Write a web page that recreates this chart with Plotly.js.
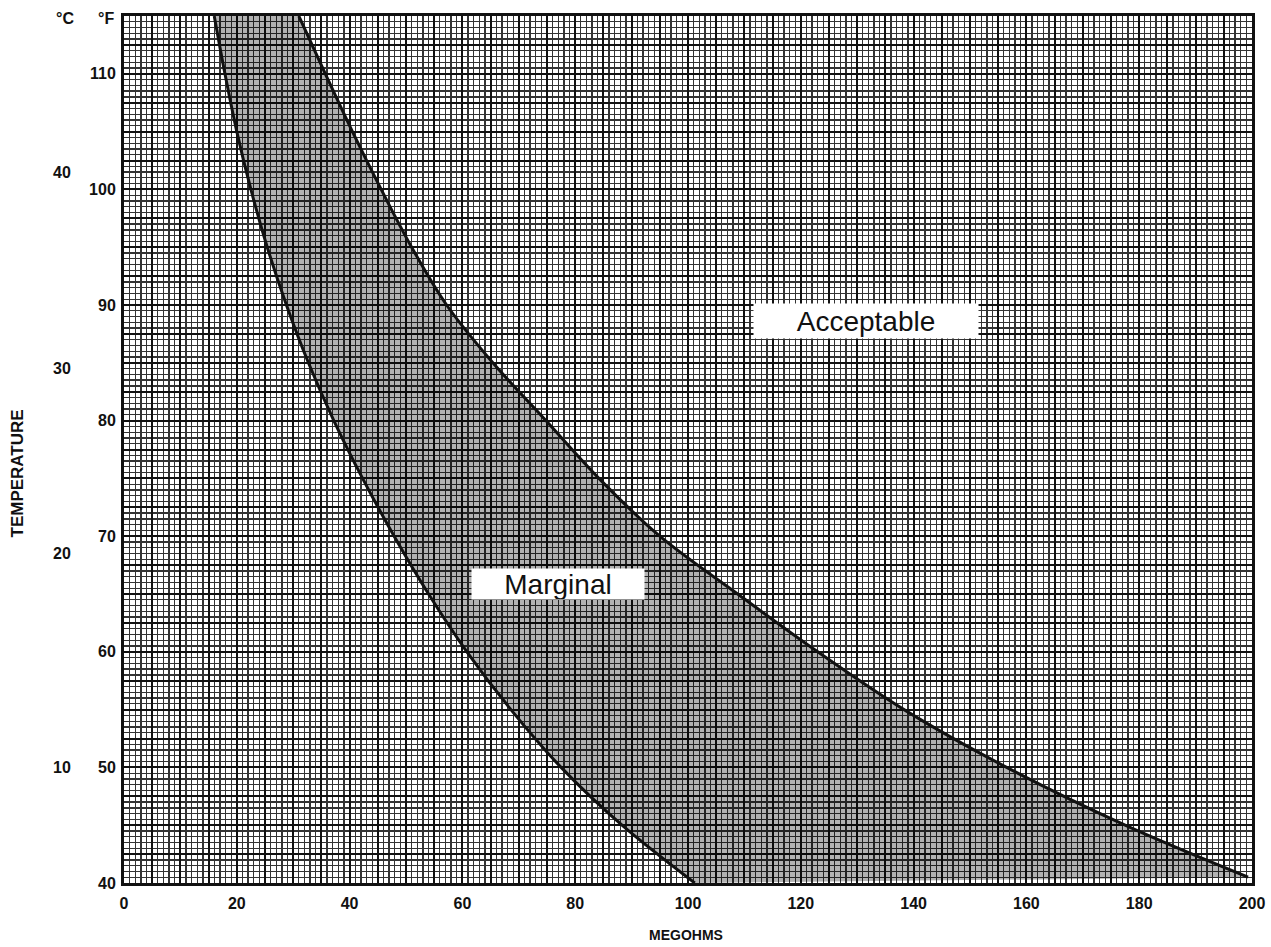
<!DOCTYPE html>
<html>
<head>
<meta charset="utf-8">
<script src="https://cdn.plot.ly/plotly-3.0.1.min.js"></script>
<style>html,body{margin:0;padding:0;background:#fff;}#chart{width:1271px;height:947px;}</style>
</head>
<body>
<div id="chart"></div>
<script>
// Marginal (lower) boundary: temperature (°F) vs megohms
const marginalTempF = [115, 110, 105, 100, 95, 90, 85, 80, 75, 70, 65, 60, 55, 50, 45, 40];
const marginalMegohms = [16.0, 17.9, 20.0, 22.5, 25.4, 28.8, 32.7, 37.2, 42.3, 47.9, 54.0, 60.8, 68.6, 77.5, 88.3, 101.2];
// Acceptable (upper) boundary
const acceptableTempF = [115, 110, 105, 100, 95, 90, 85, 80, 75, 70, 65, 60, 55, 50, 45, 40.5];
const acceptableMegohms = [31.0, 35.7, 40.5, 45.6, 51.0, 57.2, 65.4, 74.8, 84.2, 95.0, 108.8, 123.0, 138.3, 156.5, 177.5, 199.3];

const xTickLabels = [0, 20, 40, 60, 80, 100, 120, 140, 160, 180, 200];
const fTickLabels = [40, 50, 60, 70, 80, 90, 100, 110];
const cTickLabels = [10, 20, 30, 40];
const cTickPosF = [50, 68.5, 84.5, 101.5];

const regionLabels = ['Acceptable', 'Marginal'];
const regionLabelPos = [[131.6, 88.65], [77, 65.9]];

// grid (paper) ticks
const xVals = [], xText = [];
for (let v = 0; v <= 200; v += 5) { xVals.push(v); xText.push(xTickLabels.includes(v) ? String(v) : ''); }
const yVals = [], yText = [];
for (let v = 40; v <= 115; v += 2.5) { yVals.push(v); yText.push(fTickLabels.includes(v) ? String(v) : ''); }

const FONT = 'Liberation Sans, Arial, Helvetica, sans-serif';

const traces = [
  {
    x: marginalMegohms, y: marginalTempF, mode: 'lines', type: 'scatter',
    line: {color: '#111', width: 3, shape: 'spline', smoothing: 1},
    hoverinfo: 'skip', showlegend: false
  },
  {
    x: acceptableMegohms, y: acceptableTempF, mode: 'lines', type: 'scatter',
    line: {color: '#111', width: 3, shape: 'spline', smoothing: 1},
    fill: 'tonextx', fillcolor: 'rgba(0,0,0,0.3)',
    hoverinfo: 'skip', showlegend: false
  }
];

const annotations = [];
cTickLabels.forEach((c, i) => {
  annotations.push({
    text: String(c), xref: 'paper', yref: 'y', x: 0, y: cTickPosF[i],
    xanchor: 'right', yanchor: 'middle', xshift: -51, showarrow: false,
    font: {family: FONT, size: 16, color: '#111', weight: 700}
  });
});
annotations.push({text: '°C', xref: 'paper', yref: 'paper', x: 0, y: 1, xanchor: 'center', yanchor: 'middle',
  xshift: -59, yshift: -2, showarrow: false, font: {family: FONT, size: 16, color: '#111', weight: 700}});
annotations.push({text: '°F', xref: 'paper', yref: 'paper', x: 0, y: 1, xanchor: 'center', yanchor: 'middle',
  xshift: -18, yshift: -2, showarrow: false, font: {family: FONT, size: 16, color: '#111', weight: 700}});
annotations.push({text: 'MEGOHMS', xref: 'paper', yref: 'paper', x: 0.5, y: 0, xanchor: 'center', yanchor: 'middle',
  xshift: -2, yshift: -52, showarrow: false, font: {family: FONT, size: 14, color: '#111', weight: 700}});
annotations.push({text: 'TEMPERATURE', xref: 'paper', yref: 'paper', x: 0, y: 0.5, xanchor: 'center', yanchor: 'middle',
  xshift: -107, yshift: -24, textangle: -90, showarrow: false, font: {family: FONT, size: 17, color: '#111', weight: 700}});
const boxSizes = [[224, 34], [172, 30]];
regionLabels.forEach((t, i) => {
  annotations.push({
    text: t, xref: 'x', yref: 'y', x: regionLabelPos[i][0], y: regionLabelPos[i][1],
    showarrow: false, bgcolor: '#ffffff', borderpad: 0,
    width: boxSizes[i][0], height: boxSizes[i][1],
    font: {family: FONT, size: 28, color: '#111'}
  });
});

const layout = {
  width: 1271, height: 947,
  margin: {l: 124, r: 19, t: 16, b: 64},
  paper_bgcolor: '#ffffff', plot_bgcolor: '#ffffff',
  showlegend: false,
  xaxis: {
    range: [0, 200], tickmode: 'array', tickvals: xVals, ticktext: xText,
    showgrid: true, gridcolor: '#111', gridwidth: 2,
    minor: {tick0: 0, dtick: 1, showgrid: true, gridcolor: '#333', gridwidth: 1.3, ticks: ''},
    ticks: 'outside', ticklen: 0, ticklabelstandoff: 4,
    showline: true, mirror: true, linecolor: '#111', linewidth: 3,
    zeroline: false, fixedrange: true,
    tickfont: {family: FONT, size: 16, color: '#111', weight: 700}
  },
  yaxis: {
    range: [40, 115], tickmode: 'array', tickvals: yVals, ticktext: yText,
    showgrid: true, gridcolor: '#111', gridwidth: 2,
    minor: {tick0: 40, dtick: 0.5, showgrid: true, gridcolor: '#333', gridwidth: 1.3, ticks: ''},
    ticks: 'outside', ticklen: 0, ticklabelstandoff: 2,
    showline: true, mirror: true, linecolor: '#111', linewidth: 3,
    zeroline: false, fixedrange: true,
    tickfont: {family: FONT, size: 16, color: '#111', weight: 700}
  },
  annotations: annotations
};

Plotly.newPlot('chart', traces, layout, {staticPlot: true, displayModeBar: false});
</script>
</body>
</html>
